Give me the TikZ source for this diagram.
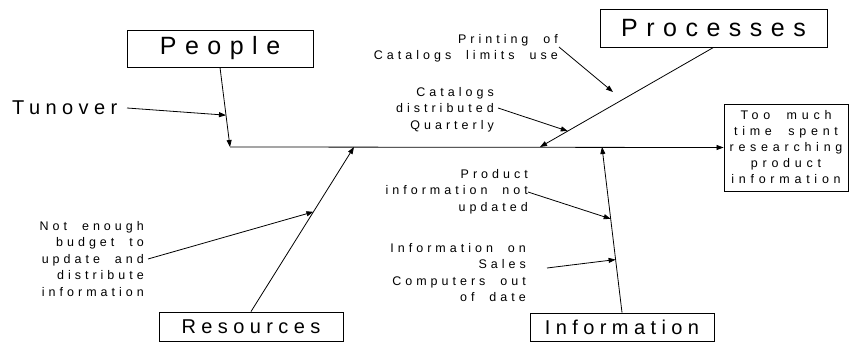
\documentclass[tikz,border=0pt]{standalone}
\usepackage{fontspec}
\setmainfont{Liberation Sans}
\newfontfamily\catfont[LetterSpace=34]{Liberation Sans}
\newfontfamily\midfont[LetterSpace=27]{Liberation Sans}
\newfontfamily\causefont[LetterSpace=32,WordSpace=2]{Liberation Sans}
\newfontfamily\effectfont[LetterSpace=38,WordSpace=2]{Liberation Sans}
\usetikzlibrary{arrows.meta,calc}

\tikzset{
  catbox/.style={draw, line width=0.9pt, inner sep=0pt,
    font=\catfont\fontsize{25}{30}\selectfont},
  lowbox/.style={draw, line width=0.9pt, inner sep=0pt,
    font=\midfont\fontsize{20}{24}\selectfont},
  cause/.style={inner sep=0pt, align=right, anchor=north east,
    font=\causefont\fontsize{12.5}{16.5}\selectfont},
  bone/.style={line width=0.8pt, -{Triangle[length=7pt,width=5pt]}},
}

\begin{document}
\begin{tikzpicture}[x=1pt,y=-1pt]
\useasboundingbox (0,0) rectangle (851,342);

% category boxes and the effect box
\node[catbox, minimum width=186pt, minimum height=37pt] (people) at (220,48.5) {People};
\node[catbox, minimum width=227pt, minimum height=38pt] (processes) at (713.5,28) {Processes};
\node[lowbox, minimum width=184pt, minimum height=29pt] (resources) at (251,326.5) {Resources};
\node[lowbox, minimum width=184pt, minimum height=28pt] (information) at (622,327) {Information};
\node[draw, line width=0.9pt, inner sep=0pt, minimum width=124pt, minimum height=87pt,
      align=center, font=\effectfont\fontsize{12.5}{16}\selectfont] (effect) at (786,147.5)
      {Too much\\time spent\\researching\\product\\information};

% spine and its joints
\coordinate (s0) at (230,147);
\coordinate (pj) at (540,147);
\coordinate (rj) at (354,147);
\coordinate (ij) at (602,147);

\draw[bone] (s0) -- (effect.west);
\draw[bone] (people.south) -- (s0);
\draw[bone] (processes.south) -- (pj);
\draw[bone] (resources.north) -- (rj);
\draw[bone] (information.north) -- (ij);

% causes
\node[anchor=base west, inner sep=0pt, font=\midfont\fontsize{20}{24}\selectfont] (tun) at (12,115) {Tunover};
\node[cause] (printing) at (558,34) {Printing of\\Catalogs limits use};
\node[cause] (catalogs) at (494,87) {Catalogs\\distributed\\Quarterly};
\node[cause] (budget) at (144,221) {Not enough\\budget to\\update and\\distribute\\information};
\node[cause] (product) at (528,169) {Product\\information not\\updated};
\node[cause] (sales) at (526,243) {Information on\\Sales\\Computers out\\of date};

\coordinate (tunA) at (127,108);
\coordinate (printA) at (559,47);
\coordinate (printB) at (613,92);
\coordinate (catA) at (498,108);
\coordinate (budA) at (148,259);
\coordinate (prodA) at (528,192);
\coordinate (salesA) at (547,268);

\draw[bone] (tunA) -- ($(people.south)!0.6!(s0)$);
\draw[bone] (printA) -- (printB);
\draw[bone] (catA) -- ($(processes.south)!0.84!(pj)$);
\draw[bone] (budA) -- ($(resources.north)!0.606!(rj)$);
\draw[bone] (prodA) -- ($(information.north)!0.566!(ij)$);
\draw[bone] (salesA) -- ($(information.north)!0.32!(ij)$);
\end{tikzpicture}
\end{document}
